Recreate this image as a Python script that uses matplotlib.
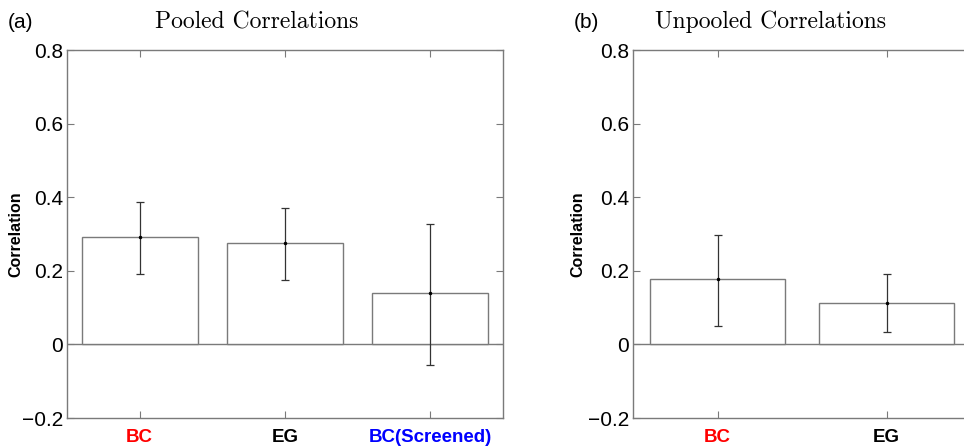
import matplotlib
matplotlib.use("Agg")
import matplotlib.pyplot as plt
import numpy as np

# pooled correlations (panel a)
pooled_labels = ["BC", "EG", "BC(Screened)"]
pooled_colors = ["red", "black", "blue"]
pooled_vals = [0.291, 0.275, 0.140]
pooled_hi = [0.386, 0.371, 0.327]
pooled_lo = [0.190, 0.176, -0.056]

# unpooled correlations (panel b)
unpooled_labels = ["BC", "EG"]
unpooled_colors = ["red", "black"]
unpooled_vals = [0.177, 0.112]
unpooled_hi = [0.298, 0.190]
unpooled_lo = [0.050, 0.034]

yticks = [-0.2, 0, 0.2, 0.4, 0.6, 0.8]
ytick_labels = ["\u22120.2", "0", "0.2", "0.4", "0.6", "0.8"]

LINE = "#7a7a7a"
ERR = "#333333"


def bar_panel(ax, labels, colors, vals, lo, hi, title, tag, title_x, tag_x, ylab_x):
    x = np.arange(1, len(vals) + 1)
    vals = np.array(vals)
    yerr = [vals - np.array(lo), np.array(hi) - vals]
    ax.bar(x, vals, width=0.8, color="white", edgecolor=LINE, linewidth=1.0, zorder=2)
    ax.errorbar(x, vals, yerr=yerr, fmt="none", ecolor=ERR, elinewidth=0.9,
                capsize=3, capthick=0.9, zorder=3)
    ax.plot(x, vals, "o", color="black", markersize=1.5, zorder=4)
    ax.axhline(0, color=LINE, linewidth=1.0, zorder=1)
    ax.set_xlim(0.5, len(vals) + 0.5)
    ax.set_ylim(-0.2, 0.8)
    ax.set_yticks(yticks)
    ax.set_yticklabels(ytick_labels, fontsize=15, family="Liberation Sans")
    ax.set_xticks(x)
    ax.set_xticklabels(labels, fontsize=13.5, fontweight="bold", family="Liberation Sans")
    for t, c in zip(ax.get_xticklabels(), colors):
        t.set_color(c)
    ax.tick_params(direction="in", top=True, right=True, length=5, color=LINE,
                   width=0.8, pad=3)
    ax.tick_params(axis="x", pad=8)
    for s in ax.spines.values():
        s.set_color(LINE)
        s.set_linewidth(1.0)
    ax.set_ylabel("Correlation", fontsize=11.5, fontweight="bold",
                  family="Liberation Sans")
    ax.yaxis.set_label_coords(ylab_x, 0.5)
    ax.text(title_x, 1.076, title, transform=ax.transAxes, fontsize=17,
            family="cmr10", ha="center", va="center")
    ax.text(tag_x, 1.076, tag, transform=ax.transAxes, fontsize=15,
            family="Liberation Sans", ha="left", va="center")


fig = plt.figure(figsize=(9.64, 4.48), dpi=100)

ax1 = fig.add_axes([67 / 964, 30 / 448, 436 / 964, 368 / 448])
bar_panel(ax1, pooled_labels, pooled_colors, pooled_vals, pooled_lo, pooled_hi,
          "Pooled Correlations", "(a)", 0.434, -0.136, -0.101)

# right panel is cut off by the figure edge, as in the original
ax2 = fig.add_axes([633 / 964, 30 / 448, 338 / 964, 368 / 448])
bar_panel(ax2, unpooled_labels, unpooled_colors, unpooled_vals, unpooled_lo,
          unpooled_hi, "Unpooled Correlations", "(b)", 0.408, -0.176, -0.142)

fig.savefig("out.png", dpi=100)
